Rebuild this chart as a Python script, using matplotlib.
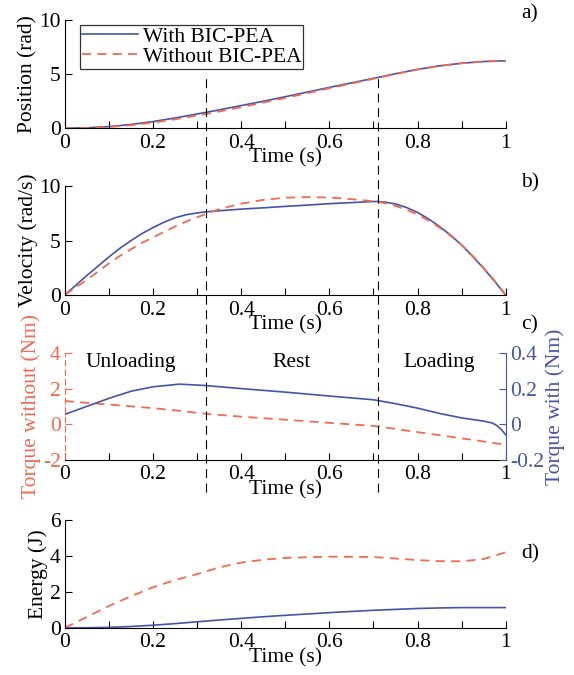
import numpy as np
import matplotlib
matplotlib.use("Agg")
import matplotlib.pyplot as plt
import matplotlib.transforms as mtransforms
from matplotlib.ticker import MultipleLocator

plt.rcParams['font.family'] = ['Liberation Serif', 'DejaVu Serif']
plt.rcParams['font.size'] = 15.5

BLUE = '#4653ab'
RED = '#f26a4f'
FS = 15.5

# ---- data ----
t_pos = [0, 0.05, 0.1, 0.15, 0.2, 0.25, 0.3, 0.32, 0.35, 0.4, 0.45, 0.5, 0.55, 0.6, 0.65, 0.7, 0.71, 0.75, 0.8, 0.85, 0.9, 0.95, 1.0]
pos_with = [0, 0.04, 0.15, 0.35, 0.62, 0.95, 1.32, 1.47, 1.7, 2.1, 2.5, 2.92, 3.35, 3.78, 4.2, 4.62, 4.7, 5.05, 5.45, 5.78, 6.02, 6.18, 6.25]
pos_without = [0, 0.03, 0.12, 0.28, 0.52, 0.83, 1.18, 1.32, 1.55, 1.95, 2.38, 2.8, 3.25, 3.7, 4.14, 4.58, 4.67, 5.02, 5.43, 5.77, 6.02, 6.18, 6.25]

t_vel = [0, 0.025, 0.05, 0.075, 0.1, 0.125, 0.15, 0.175, 0.2, 0.225, 0.25, 0.275, 0.3, 0.32, 0.35, 0.4, 0.45, 0.5, 0.55, 0.6, 0.65, 0.7, 0.71, 0.725, 0.75, 0.775, 0.8, 0.825, 0.85, 0.875, 0.9, 0.925, 0.95, 0.975, 1.0]
vel_with = [0, 0.9, 1.8, 2.65, 3.5, 4.3, 5.0, 5.65, 6.2, 6.7, 7.1, 7.38, 7.55, 7.65, 7.75, 7.9, 8.02, 8.15, 8.27, 8.4, 8.5, 8.6, 8.6, 8.55, 8.38, 8.05, 7.6, 7.0, 6.3, 5.5, 4.6, 3.55, 2.45, 1.25, 0]
vel_without = [0, 0.7, 1.4, 2.15, 2.9, 3.6, 4.2, 4.8, 5.3, 5.8, 6.3, 6.75, 7.15, 7.45, 7.9, 8.4, 8.75, 8.95, 9.0, 8.97, 8.82, 8.62, 8.57, 8.45, 8.2, 7.85, 7.4, 6.85, 6.2, 5.45, 4.6, 3.6, 2.5, 1.3, 0]

t_tq = [0, 0.05, 0.1, 0.15, 0.2, 0.26, 0.32, 0.4, 0.5, 0.6, 0.7, 0.71, 0.75, 0.8, 0.85, 0.9, 0.93, 0.95, 0.97, 0.98, 0.99, 1.0]
tq_with = [0.055, 0.1, 0.145, 0.185, 0.21, 0.225, 0.217, 0.2, 0.18, 0.158, 0.137, 0.133, 0.115, 0.09, 0.06, 0.035, 0.024, 0.017, 0.006, -0.008, -0.03, -0.06]
tq_without = [1.3, 1.2, 1.1, 1.0, 0.9, 0.75, 0.58, 0.42, 0.25, 0.07, -0.1, -0.13, -0.27, -0.45, -0.62, -0.8, -0.9, -0.98, -1.05, -1.09, -1.12, -1.16]

t_en = [0, 0.05, 0.1, 0.15, 0.2, 0.25, 0.3, 0.35, 0.4, 0.45, 0.5, 0.6, 0.7, 0.8, 0.85, 0.9, 0.95, 1.0]
en_with = [0, 0.0, 0.02, 0.07, 0.14, 0.23, 0.33, 0.43, 0.52, 0.61, 0.69, 0.84, 0.97, 1.07, 1.1, 1.12, 1.12, 1.12]
en_without = [0, 0.6, 1.21, 1.75, 2.25, 2.65, 2.98, 3.35, 3.62, 3.78, 3.88, 3.95, 3.93, 3.76, 3.7, 3.69, 3.82, 4.19]

phase_bounds = [0.32, 0.71]
phase_names = ['Unloading', 'Rest', 'Loading']
phase_text_x = [0.15, 0.515, 0.85]

fig = plt.figure(figsize=(5.74, 6.75), dpi=100)
L, W = 0.113, 0.768
rects = [(L, 0.810, W, 0.160), (L, 0.563, W, 0.161), (L, 0.319, W, 0.158), (L, 0.070, W, 0.160)]
axes = [fig.add_axes(r) for r in rects]

dash_red = (0, (5, 3.5))

def style(ax):
    for s in ['top', 'right']:
        ax.spines[s].set_visible(False)
    ax.set_xlim(0, 1)
    ax.xaxis.set_minor_locator(MultipleLocator(0.1))
    ax.tick_params(which='both', direction='in', length=5, width=0.8, labelsize=FS)
    ax.tick_params(axis='x', which='both', pad=4)
    ax.tick_params(axis='y', pad=3)
    ax.set_xticks([0, 0.2, 0.4, 0.6, 0.8, 1.0])
    ax.set_xticklabels(['0', '0.2', '0.4', '0.6', '0.8', '1'])
    ax.set_xlabel('Time (s)', fontsize=FS, labelpad=-3)
    ax.patch.set_alpha(0)

# a
ax = axes[0]
style(ax)
ax.plot(t_pos, pos_with, color=BLUE, lw=1.2, label='With BIC-PEA')
ax.plot(t_pos, pos_without, color=RED, lw=1.3, ls=dash_red, label='Without BIC-PEA')
ax.set_ylim(0, 10)
ax.set_yticks([0, 5, 10])
ax.set_ylabel('Position (rad)', fontsize=FS, labelpad=1)
leg = ax.legend(loc='upper left', bbox_to_anchor=(0.025, 1.0), fontsize=FS, frameon=True,
                fancybox=False, edgecolor='black', handlelength=2.6, handletextpad=0.2,
                borderpad=0.1, labelspacing=0.0, borderaxespad=0.2)
leg.get_frame().set_linewidth(0.9)
ax.text(1.055, 1.06, 'a)', transform=ax.transAxes, fontsize=FS, ha='center', va='center')

# b
ax = axes[1]
style(ax)
ax.plot(t_vel, vel_with, color=BLUE, lw=1.2)
ax.plot(t_vel, vel_without, color=RED, lw=1.3, ls=dash_red)
ax.set_ylim(0, 10)
ax.set_yticks([0, 5, 10])
ax.set_ylabel('Velocity (rad/s)', fontsize=FS, labelpad=1)
ax.text(1.055, 1.03, 'b)', transform=ax.transAxes, fontsize=FS, ha='center', va='center')

# c
ax = axes[2]
style(ax)
ax.plot(t_tq, tq_without, color=RED, lw=1.3, ls=dash_red)
ax.set_ylim(-2, 4)
ax.set_yticks([-2, 0, 2, 4])
ax.set_yticklabels(['-2', '0', '2', '4'])
ax.spines['left'].set_color(RED)
ax.spines['left'].set_linestyle((0, (5, 3.5)))
ax.tick_params(axis='y', colors=RED)
ax.set_ylabel('Torque without (Nm)', fontsize=FS, color=RED, labelpad=1)
for name, xp in zip(phase_names, phase_text_x):
    ax.text(xp, 3.45, name, fontsize=FS, ha='center', va='center')
ax2 = ax.twinx()
ax2.set_position(rects[2])
ax2.plot(t_tq, tq_with, color=BLUE, lw=1.2)
ax2.set_ylim(-0.2, 0.4)
ax2.set_yticks([-0.2, 0, 0.2, 0.4])
ax2.set_yticklabels(['-0.2', '0', '0.2', '0.4'])
for s in ['top', 'left', 'bottom']:
    ax2.spines[s].set_visible(False)
ax2.spines['right'].set_color(BLUE)
ax2.tick_params(axis='y', direction='in', length=5, colors=BLUE, labelsize=FS, pad=3)
ax2.set_ylabel('Torque with (Nm)', fontsize=FS, color=BLUE, labelpad=1)
ax.text(1.055, 1.26, 'c)', transform=ax.transAxes, fontsize=FS, ha='center', va='center')

# d
ax = axes[3]
style(ax)
ax.plot(t_en, en_with, color=BLUE, lw=1.2)
ax.plot(t_en, en_without, color=RED, lw=1.3, ls=dash_red)
ax.set_ylim(0, 6)
ax.set_yticks([0, 2, 4, 6])
ax.set_ylabel('Energy (J)', fontsize=FS, labelpad=1)
ax.text(1.055, 0.68, 'd)', transform=ax.transAxes, fontsize=FS, ha='center', va='center')

# phase boundary lines spanning panels a-c
trans = mtransforms.blended_transform_factory(axes[0].transData, fig.transFigure)
y_top = 1 - 73 / 675
y_bot = 1 - 492 / 675
for xb in phase_bounds:
    fig.add_artist(plt.Line2D([xb, xb], [y_bot, y_top], transform=trans, color='black',
                              lw=0.8, ls=(0, (8, 5))))

fig.savefig('out.png', dpi=100)
